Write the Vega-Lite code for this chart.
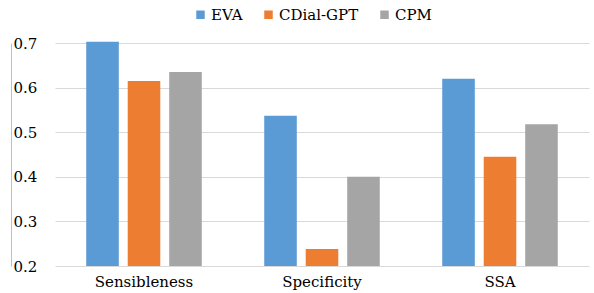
{
  "$schema": "https://vega.github.io/schema/vega-lite/v6.json",
  "width": 534,
  "height": 223,
  "autosize": "none",
  "padding": {"left": 55, "top": 43, "right": 5, "bottom": 27},
  "background": "white",
  "config": {
    "view": {"stroke": null},
    "font": "DejaVu Serif"
  },
  "data": {
    "values": [
      {"metric": "Sensibleness", "model": "EVA", "value": 0.703},
      {"metric": "Sensibleness", "model": "CDial-GPT", "value": 0.615},
      {"metric": "Sensibleness", "model": "CPM", "value": 0.635},
      {"metric": "Specificity", "model": "EVA", "value": 0.537},
      {"metric": "Specificity", "model": "CDial-GPT", "value": 0.238},
      {"metric": "Specificity", "model": "CPM", "value": 0.400},
      {"metric": "SSA", "model": "EVA", "value": 0.620},
      {"metric": "SSA", "model": "CDial-GPT", "value": 0.445},
      {"metric": "SSA", "model": "CPM", "value": 0.518}
    ]
  },
  "mark": {"type": "bar", "clip": false},
  "encoding": {
    "x": {
      "field": "metric",
      "type": "nominal",
      "sort": ["Sensibleness", "Specificity", "SSA"],
      "scale": {"paddingInner": 0, "paddingOuter": 0},
      "axis": {
        "title": null,
        "labelAngle": 0,
        "labelFontSize": 15,
        "labelFont": "DejaVu Serif",
        "labelColor": "#000000",
        "labelPadding": 8,
        "ticks": false,
        "domain": false,
        "grid": false
      }
    },
    "xOffset": {
      "field": "model",
      "type": "nominal",
      "sort": ["EVA", "CDial-GPT", "CPM"],
      "scale": {"paddingInner": 0.215, "paddingOuter": 0.753}
    },
    "y": {
      "field": "value",
      "type": "quantitative",
      "scale": {"domain": [0.2, 0.7], "nice": false, "zero": false},
      "axis": {
        "title": null,
        "values": [0.2, 0.3, 0.4, 0.5, 0.6, 0.7],
        "format": ".1f",
        "labelFontSize": 15,
        "labelFont": "DejaVu Serif",
        "labelColor": "#000000",
        "labelAlign": "left",
        "labelPadding": -2,
        "ticks": false,
        "tickSize": 0,
        "offset": 44,
        "domain": true,
        "domainColor": "#BFBFBF",
        "domainWidth": 1,
        "grid": true,
        "gridColor": "#D9D9D9",
        "gridWidth": 1
      }
    },
    "y2": {"datum": 0.2},
    "color": {
      "field": "model",
      "type": "nominal",
      "sort": ["EVA", "CDial-GPT", "CPM"],
      "scale": {
        "domain": ["EVA", "CDial-GPT", "CPM"],
        "range": ["#5B9BD5", "#ED7D31", "#A5A5A5"]
      },
      "legend": {
        "title": null,
        "orient": "none",
        "direction": "horizontal",
        "legendX": 138,
        "legendY": -36,
        "symbolType": "square",
        "symbolSize": 72,
        "symbolStrokeWidth": 0,
        "labelFontSize": 15,
        "labelFont": "DejaVu Serif",
        "labelColor": "#000000",
        "labelOffset": 3,
        "columnPadding": 18
      }
    }
  }
}
